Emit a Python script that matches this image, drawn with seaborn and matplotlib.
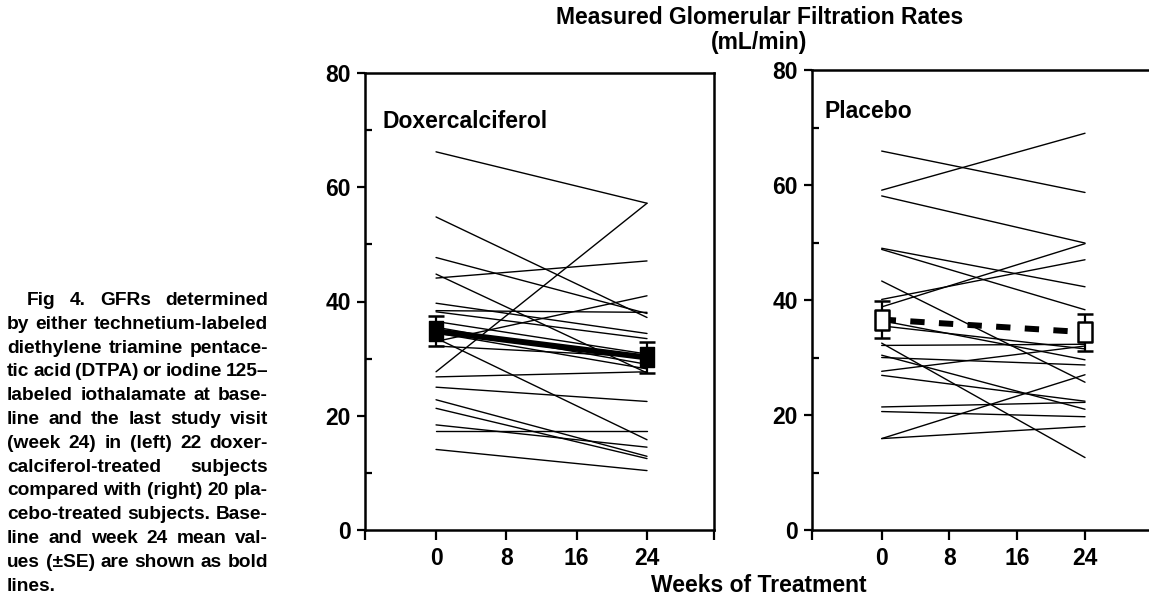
import pandas as pd
import matplotlib
matplotlib.use("Agg")
import matplotlib.pyplot as plt
import seaborn as sns
from matplotlib.path import Path

# Weeks of treatment
weeks = [0, 24]

# Doxercalciferol subjects: GFR at baseline and week 24 (mL/min)
doxer_base = [66.2, 27.7, 54.8, 47.7, 44.1, 44.8, 39.7, 38.4, 38.2, 33.0, 33.6,
              32.2, 35.5, 34.5, 26.8, 25.0, 22.8, 21.3, 18.4, 17.3, 14.1, 36.5]
doxer_wk24 = [57.2, 57.2, 37.2, 37.9, 47.1, 27.5, 34.4, 38.1, 33.5, 41.0, 15.8,
              30.3, 29.0, 28.2, 27.7, 22.5, 12.9, 12.5, 14.5, 17.3, 10.4, 30.8]
doxer_mean = [34.8, 30.2]
doxer_se = [2.6, 2.7]

# Placebo subjects
placebo_base = [65.9, 59.1, 58.1, 49.0, 48.8, 40.1, 38.8, 43.3, 36.4, 32.5,
                32.1, 30.0, 27.6, 26.9, 30.4, 21.4, 20.6, 15.9, 15.9, 35.5]
placebo_wk24 = [58.7, 69.0, 49.9, 42.3, 38.3, 47.0, 49.8, 25.7, 29.6, 12.6,
                32.3, 28.7, 32.0, 22.4, 21.0, 22.2, 19.7, 27.0, 18.0, 31.5]
placebo_mean = [36.6, 34.4]
placebo_se = [3.2, 3.2]

caption_lines = [
    "Fig 4.  GFRs determined",
    "by either technetium-labeled",
    "diethylene triamine pentace-",
    "tic acid (DTPA) or iodine 125\u2013",
    "labeled iothalamate at base-",
    "line and the last study visit",
    "(week 24) in (left) 22 doxer-",
    "calciferol-treated  subjects",
    "compared with (right) 20 pla-",
    "cebo-treated subjects. Base-",
    "line and week 24 mean val-",
    "ues (\u00b1SE) are shown as bold",
    "lines.",
]


def to_long(base, wk24):
    rows = []
    for i, (b, e) in enumerate(zip(base, wk24)):
        rows.append({"subject": i, "week": weeks[0], "gfr": b})
        rows.append({"subject": i, "week": weeks[1], "gfr": e})
    return pd.DataFrame(rows)


sns.set_style("ticks")
plt.rcParams["font.family"] = ["Liberation Sans", "DejaVu Sans"]
plt.rcParams["font.weight"] = "bold"
for key in ["text.color", "axes.labelcolor", "xtick.color", "ytick.color", "axes.edgecolor"]:
    plt.rcParams[key] = "black"

W, H = 1149, 601
fig = plt.figure(figsize=(W / 100, H / 100), dpi=100)

# tall rectangle marker
rect = Path([(-0.34, -0.5), (0.34, -0.5), (0.34, 0.5), (-0.34, 0.5), (-0.34, -0.5)],
            [Path.MOVETO, Path.LINETO, Path.LINETO, Path.LINETO, Path.CLOSEPOLY])


def style_axis(ax, xlim, show_right):
    ax.set_xlim(*xlim)
    ax.set_ylim(0, 80)
    ax.set_xticks([xlim[0], 0, 8, 16, 24, xlim[1]])
    ax.set_xticklabels(["", "0", "8", "16", "24", ""])
    ax.set_yticks([0, 20, 40, 60, 80])
    ax.set_yticks([10, 30, 50, 70], minor=True)
    ax.tick_params(axis="x", direction="out", length=7.5, width=1.6, pad=5,
                   labelsize=16.5)
    ax.tick_params(axis="y", which="major", direction="out", length=6, width=1.6,
                   pad=4, labelsize=16.5)
    ax.tick_params(axis="y", which="minor", direction="in", length=5, width=1.6)
    for side in ["left", "bottom", "top"]:
        ax.spines[side].set_linewidth(1.8)
        ax.spines[side].set_visible(True)
    ax.spines["right"].set_linewidth(1.8)
    ax.spines["right"].set_visible(show_right)
    ax.set_xlabel("")
    ax.set_ylabel("")
    for lab in ax.get_xticklabels() + ax.get_yticklabels():
        lab.set_fontweight("bold")


# Left panel: doxercalciferol
ax1 = fig.add_axes([365 / W, 1 - 530 / H, 349 / W, 457 / H])
sns.lineplot(data=to_long(doxer_base, doxer_wk24), x="week", y="gfr", units="subject",
             estimator=None, color="black", linewidth=1.0, ax=ax1, legend=False)
ax1.plot(weeks, doxer_mean, color="black", linewidth=4.3, solid_capstyle="butt")
ax1.errorbar(weeks, doxer_mean, yerr=doxer_se, fmt="none", ecolor="black",
             elinewidth=1.6, capsize=6, capthick=1.8)
ax1.plot(weeks, doxer_mean, linestyle="none", marker=rect, markersize=14,
         markerfacecolor="black", markeredgecolor="black", markeredgewidth=1.0)
style_axis(ax1, (-8.08, 31.62), True)
ax1.text(383, H - 122, "Doxercalciferol", transform=None, fontsize=16.5,
         fontweight="bold", va="center", ha="left")

# Right panel: placebo
ax2 = fig.add_axes([811.7 / W, 1 - 530 / H, 341.1 / W, 460 / H])
sns.lineplot(data=to_long(placebo_base, placebo_wk24), x="week", y="gfr", units="subject",
             estimator=None, color="black", linewidth=1.0, ax=ax2, legend=False)
ax2.plot(weeks, placebo_mean, color="black", linewidth=4.3, dashes=(2.4, 2.4),
         dash_capstyle="butt")
ax2.errorbar(weeks, placebo_mean, yerr=placebo_se, fmt="none", ecolor="black",
             elinewidth=1.6, capsize=6, capthick=1.8)
ax2.plot(weeks, placebo_mean, linestyle="none", marker=rect, markersize=15,
         markerfacecolor="white", markeredgecolor="black", markeredgewidth=1.8)
style_axis(ax2, (-8.26, 32.0), False)
ax2.text(825, H - 112, "Placebo", transform=None, fontsize=16.5,
         fontweight="bold", va="center", ha="left")

# Titles
fig.text(760 / W, 1 - 18 / H, "Measured Glomerular Filtration Rates", fontsize=16.5,
         fontweight="bold", ha="center", va="center")
fig.text(759 / W, 1 - 43 / H, "(mL/min)", fontsize=16.5, fontweight="bold",
         ha="center", va="center")
fig.text(759 / W, 1 - 586 / H, "Weeks of Treatment", fontsize=16.5,
         fontweight="bold", ha="center", va="center")

# Justified caption on the left
renderer = fig.canvas.get_renderer()
cap_size = 13.8
x_left, x_right = 7, 268
for i, line in enumerate(caption_lines):
    y = 305 + i * 23.8
    start = x_left + (20 if i == 0 else 0)
    words = line.split()
    texts = [fig.text(0, 1 - y / H, w, fontsize=cap_size, fontweight="bold",
                      ha="left", va="baseline") for w in words]
    widths = [t.get_window_extent(renderer).width for t in texts]
    if i == len(caption_lines) - 1 or len(words) == 1:
        gap = 0.28 * cap_size * 100 / 72
    else:
        gap = (x_right - start - sum(widths)) / (len(words) - 1)
    x = start
    for t, w in zip(texts, widths):
        t.set_x(x / W)
        x += w + gap

fig.savefig("out.png", dpi=100)
